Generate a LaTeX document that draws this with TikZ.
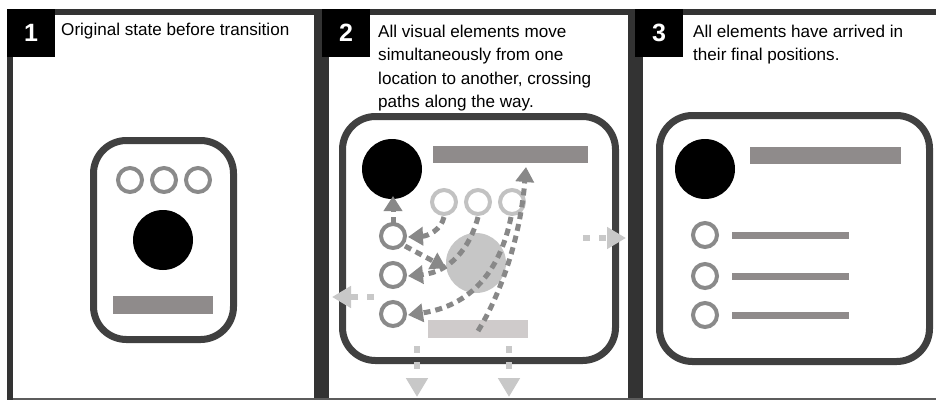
\documentclass[tikz,border=0pt]{standalone}
\usepackage{fontspec}
\setmainfont{Liberation Sans}
\usetikzlibrary{arrows.meta}
\definecolor{framecol}{HTML}{333333}
\definecolor{cardcol}{HTML}{404040}
\definecolor{barcol}{HTML}{8F8B8B}
\definecolor{ringcol}{HTML}{8A8A8A}
\definecolor{lightring}{HTML}{C2C2C2}
\definecolor{ghostcol}{HTML}{C6C6C6}
\definecolor{lightbar}{HTML}{CFCBCB}
\definecolor{arrcol}{HTML}{888888}
\definecolor{outarr}{HTML}{C8C8C8}
\tikzset{
  card/.style={draw=cardcol, line width=7pt, rounded corners=33pt, inner sep=0pt},
  ring/.style={circle, draw=ringcol, line width=4pt, minimum size=24pt, inner sep=0pt},
  lring/.style={ring, draw=lightring},
  dot/.style={circle, fill=black, minimum size=60pt, inner sep=0pt},
  ghost/.style={circle, fill=ghostcol, minimum size=60pt, inner sep=0pt},
  bar/.style={rectangle, fill=barcol, inner sep=0pt},
  numbox/.style={rectangle, fill=black, inner sep=0pt, minimum width=48pt, minimum height=48pt},
  numtxt/.style={text=white, font=\bfseries\fontsize{25}{28}\selectfont},
  ttl/.style={anchor=base west, inner sep=0pt, font=\fontsize{17.1}{20}\selectfont},
  inarrow/.style={draw=arrcol, line width=5pt, dash pattern=on 7pt off 5pt,
     -{Triangle[length=15pt,width=18pt]}},
  outarrow/.style={draw=outarr, line width=5.5pt, dash pattern=on 7pt off 9pt,
     -{Triangle[length=19pt,width=21pt]}},
}
\begin{document}
\begin{tikzpicture}[x=1pt,y=-1pt]
\useasboundingbox (0,0) rectangle (936,400);
\fill[white] (0,0) rectangle (936,400);
% frame
\fill[framecol] (7,9) rectangle (936,15);
\fill[framecol] (7,9) rectangle (13,400);
\fill[framecol] (314,9) rectangle (329,400);
\fill[framecol] (628,9) rectangle (643,400);
\draw[framecol!80, line width=1.5pt] (13,398.8) -- (936,398.8);
% number boxes
\node[numbox] (b1) at (31,33) {};
\node[numbox] (b2) at (346,33) {};
\node[numbox] (b3) at (659,33) {};
\node[numtxt] (n1) at (b1.center) {1};
\node[numtxt] (n2) at (b2.center) {2};
\node[numtxt] (n3) at (b3.center) {3};
% titles
\node[ttl] (t1) at (61,35) {Original state before transition};
\node[ttl] (t2a) at (378,37) {All visual elements move};
\node[ttl] (t2b) at (378,60.5) {simultaneously from one};
\node[ttl] (t2c) at (378,84) {location to another, crossing};
\node[ttl] (t2d) at (378,107) {paths along the way.};
\node[ttl] (t3a) at (693,37) {All elements have arrived in};
\node[ttl] (t3b) at (693,60.5) {their final positions.};

% ---------- panel 1
\node[card, minimum width=140pt, minimum height=199pt] (card1) at (163.5,240) {};
\node[ring] (p1r1) at (130,180) {};
\node[ring] (p1r2) at (164,180) {};
\node[ring] (p1r3) at (198,180) {};
\node[dot] (p1dot) at (163,240) {};
\node[bar, minimum width=100pt, minimum height=18pt] (p1bar) at (163,305) {};

% ---------- panel 2
\node[card, minimum width=273pt, minimum height=244pt] (card2) at (479,238.5) {};
\node[dot] (p2dot) at (392,169) {};
\node[bar, minimum width=155pt, minimum height=17pt] (p2bar) at (510.5,154.5) {};
\node[lring] (p2l1) at (444,202) {};
\node[lring] (p2l2) at (478,202) {};
\node[lring] (p2l3) at (512,202) {};
\node[ring] (p2r1) at (393,236) {};
\node[ring] (p2r2) at (393,275) {};
\node[ring] (p2r3) at (393,314) {};
\node[ghost] (p2ghost) at (476,263) {};
\node[bar, fill=lightbar, minimum width=100pt, minimum height=18pt] (p2lbar) at (478,329) {};
% inner arrows
\coordinate (a1s) at (393,224);
\coordinate (a1e) at (393,196);
\draw[inarrow] (a1s) -- (a1e);
\coordinate (a2s) at (444,217);
\coordinate (a2e) at (408,237);
\draw[inarrow] (a2s) .. controls (441,230) and (428,236) .. (a2e);
\coordinate (a3s) at (405,246);
\coordinate (a3e) at (446,268);
\draw[inarrow] (a3s) -- (a3e);
\coordinate (a4s) at (478,217);
\coordinate (a4e) at (408,276);
\draw[inarrow] (a4s) .. controls (470,248) and (450,272) .. (a4e);
\coordinate (a5s) at (511,217);
\coordinate (a5e) at (408,315);
\draw[inarrow] (a5s) .. controls (500,272) and (470,306) .. (a5e);
\coordinate (a6s) at (478,331);
\coordinate (a6e) at (526,167);
\draw[inarrow] (a6s) .. controls (500,295) and (520,240) .. (a6e);
% outer arrows
\coordinate (orS) at (583,238);
\coordinate (orE) at (626,238);
\draw[outarrow] (orS) -- (orE);
\coordinate (olS) at (374,297);
\coordinate (olE) at (332,297);
\draw[outarrow] (olS) -- (olE);
\coordinate (ob1S) at (417,346);
\coordinate (ob1E) at (417,397);
\draw[outarrow] (ob1S) -- (ob1E);
\coordinate (ob2S) at (509,346);
\coordinate (ob2E) at (509,397);
\draw[outarrow] (ob2S) -- (ob2E);

% ---------- panel 3
\node[card, minimum width=270pt, minimum height=246pt] (card3) at (794.5,238.5) {};
\node[dot] (p3dot) at (705,169) {};
\node[bar, minimum width=151pt, minimum height=17pt] (p3bar) at (825.5,155.5) {};
\node[ring] (p3r1) at (705,235) {};
\node[ring] (p3r2) at (705,276) {};
\node[ring] (p3r3) at (705,315) {};
\node[bar, minimum width=117pt, minimum height=7pt] (p3l1) at (790.5,235) {};
\node[bar, minimum width=117pt, minimum height=7pt] (p3l2) at (790.5,276) {};
\node[bar, minimum width=117pt, minimum height=7pt] (p3l3) at (790.5,315) {};
\end{tikzpicture}
\end{document}
